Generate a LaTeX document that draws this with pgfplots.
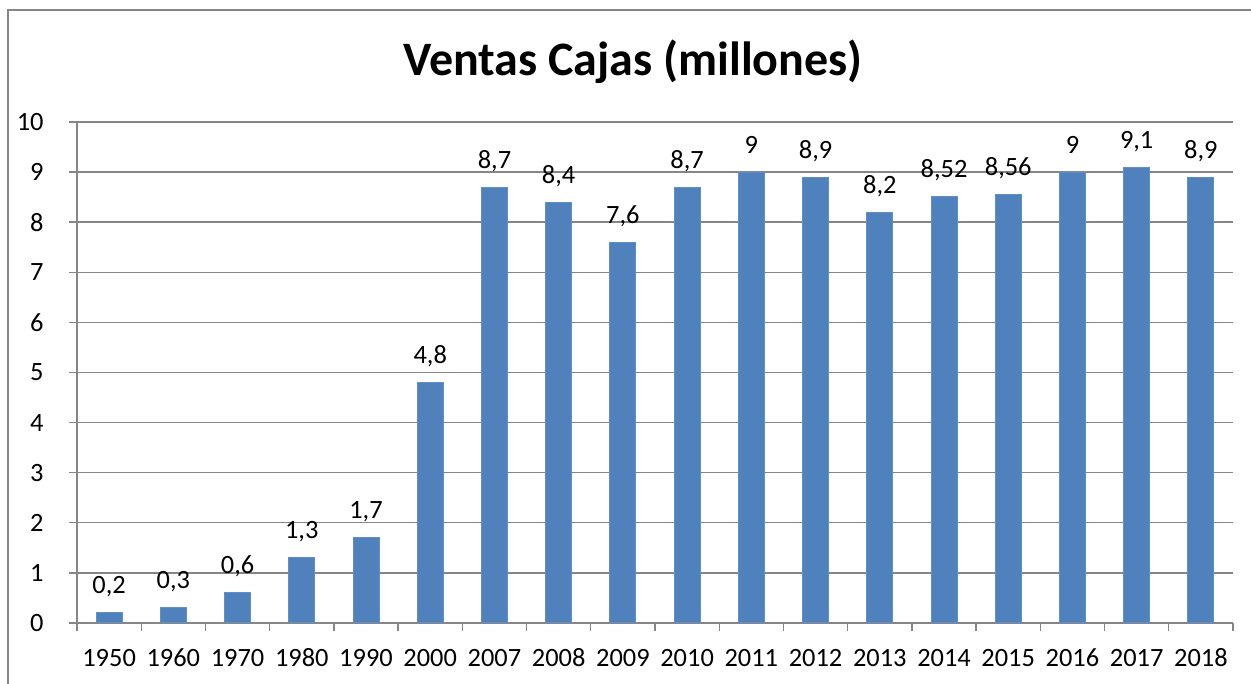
\documentclass[border=0pt]{standalone}
\usepackage{pgfplots}
\pgfplotsset{compat=1.18}
\usepackage{fontspec}
\setmainfont{Carlito}
\definecolor{barblue}{HTML}{4F81BD}
\definecolor{gridgray}{HTML}{868686}
\begin{document}
\begin{tikzpicture}
\useasboundingbox (-38.5pt,-30.5pt) rectangle (587pt,311.5pt);
\draw[gridgray, line width=0.9pt] (-34.5pt,-40pt) -- (-34.5pt,306.5pt) -- (600pt,306.5pt);
\node[font=\fontsize{24}{28}\selectfont\bfseries] at (278pt,280.5pt) {Ventas Cajas (millones)};
\begin{axis}[
  at={(0pt,0pt)}, anchor=south west,
  scale only axis, width=578pt, height=250.5pt,
  xmin=-0.5, xmax=17.5, ymin=0, ymax=10,
  ybar, bar width=13pt,
  axis x line*=bottom, axis y line*=left,
  axis line style={gridgray, line width=0.7pt, -},
  xtick={-0.5,0.5,...,17.5}, xticklabels={},
  extra x ticks={0,1,...,17},
  extra x tick labels={1950,1960,1970,1980,1990,2000,2007,2008,2009,2010,2011,2012,2013,2014,2015,2016,2017,2018},
  extra x tick style={major tick length=0pt},
  ytick={0,1,...,10},
  ymajorgrids,
  grid style={gridgray, line width=0.7pt},
  tick style={gridgray, line width=0.7pt},
  major tick length=4pt,
  tick align=outside,
  /pgf/number format/assume math mode=true,
  /pgf/number format/use comma,
  ticklabel style={font=\fontsize{13.2}{15}\selectfont},
  yticklabel style={anchor=east, inner sep=0pt, xshift=-12.5pt},
  xticklabel style={anchor=base, inner sep=0pt, yshift=-22pt},
  nodes near coords,
  every node near coord/.append style={font=\fontsize{13.2}{15}\selectfont, anchor=base, yshift=9.5pt, text=black},
]
\addplot[fill=barblue, draw=barblue!90!white, line width=0.5pt] coordinates {
(0,0.2) (1,0.3) (2,0.6) (3,1.3) (4,1.7) (5,4.8) (6,8.7) (7,8.4) (8,7.6) (9,8.7)
(10,9) (11,8.9) (12,8.2) (13,8.52) (14,8.56) (15,9) (16,9.1) (17,8.9)
};
\end{axis}
\end{tikzpicture}
\end{document}
